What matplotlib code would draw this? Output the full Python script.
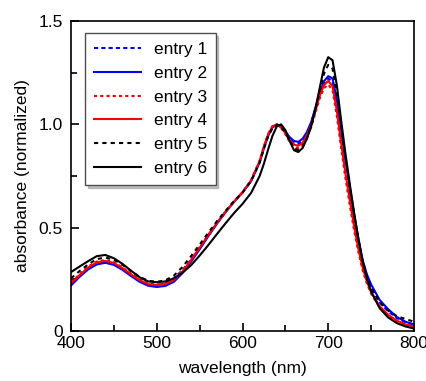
import matplotlib.pyplot as plt

plt.rcParams['font.family'] = ['Liberation Sans', 'DejaVu Sans']

# wavelength grid (nm)
wl = [400, 410, 420, 430, 440, 450, 460, 470, 480, 490, 500, 510, 520, 530,
      540, 550, 560, 570, 580, 590, 600, 610, 620, 625, 630, 635, 640, 645,
      650, 655, 660, 665, 670, 675, 680, 685, 690, 695, 700, 705, 710, 715,
      720, 725, 730, 735, 740, 745, 750, 760, 770, 780, 790, 800]

entry1 = [.225, .268, .303, .328, .335, .326, .302, .272, .244, .226, .222, .230, .255, .295,
          .345, .400, .460, .520, .575, .625, .670, .728, .820, .890, .950, .988, 1.000, .985,
          .960, .930, .910, .905, .920, .955, 1.005, 1.075, 1.145, 1.200, 1.222, 1.205, 1.095, .945,
          .805, .675, .545, .430, .330, .260, .210, .138, .095, .062, .042, .030]
entry2 = [.220, .262, .298, .322, .330, .320, .296, .266, .238, .219, .213, .218, .238, .280,
          .335, .395, .458, .518, .573, .625, .670, .725, .815, .885, .945, .985, .998, .988,
          .965, .938, .920, .915, .930, .962, 1.010, 1.080, 1.150, 1.208, 1.233, 1.222, 1.120, .970,
          .830, .700, .570, .450, .345, .275, .225, .150, .105, .068, .045, .032]
entry3 = [.235, .275, .312, .336, .343, .333, .308, .278, .250, .231, .225, .230, .250, .292,
          .345, .405, .465, .523, .577, .627, .672, .730, .825, .895, .955, .992, 1.000, .982,
          .952, .915, .892, .885, .900, .935, .985, 1.055, 1.125, 1.175, 1.192, 1.165, 1.040, .885,
          .740, .610, .490, .385, .295, .230, .180, .115, .075, .048, .030, .020]
entry4 = [.230, .270, .307, .332, .339, .329, .304, .274, .246, .227, .222, .227, .247, .288,
          .342, .403, .463, .522, .576, .625, .670, .728, .822, .892, .952, .990, 1.000, .985,
          .958, .925, .902, .896, .910, .945, .995, 1.065, 1.138, 1.190, 1.210, 1.185, 1.065, .910,
          .765, .635, .510, .400, .308, .240, .188, .120, .078, .050, .032, .022]
entry5 = [.255, .290, .322, .348, .355, .345, .320, .290, .262, .243, .238, .245, .268, .310,
          .362, .418, .475, .530, .580, .628, .670, .725, .815, .882, .942, .982, .998, .990,
          .960, .920, .885, .875, .890, .930, .990, 1.070, 1.160, 1.245, 1.288, 1.270, 1.150, .990,
          .840, .700, .565, .445, .340, .265, .210, .140, .098, .072, .058, .045]
entry6 = [.285, .312, .338, .362, .368, .352, .325, .292, .260, .240, .236, .240, .255, .282,
          .318, .365, .415, .468, .520, .570, .615, .668, .750, .810, .880, .945, .990, 1.000,
          .972, .920, .875, .866, .885, .930, .990, 1.075, 1.175, 1.275, 1.325, 1.310, 1.190, 1.020,
          .860, .715, .575, .450, .340, .255, .190, .110, .065, .038, .022, .012]

series = [entry1, entry2, entry3, entry4, entry5, entry6]
labels = ['entry 1', 'entry 2', 'entry 3', 'entry 4', 'entry 5', 'entry 6']
colors = ['#0000ff', '#0000ff', '#ff0000', '#ff0000', 'black', 'black']
dashes = [(2, 1.5), None, (1.5, 1.5), None, (2, 2), None]

fig = plt.figure(figsize=(4.26, 3.81), dpi=100)
ax = fig.add_axes([71 / 426, 50 / 381, 343 / 426, 310 / 381])

for y, lab, c, d in zip(series, labels, colors, dashes):
    if d is None:
        ax.plot(wl, y, color=c, lw=1.5, label=lab)
    else:
        ax.plot(wl, y, color=c, lw=1.5, dashes=d, label=lab)

ax.set_xlim(400, 800)
ax.set_ylim(0, 1.5)
ax.set_xticks([400, 500, 600, 700, 800])
ax.set_xticks([450, 550, 650, 750], minor=True)
ax.set_yticks([0, 0.5, 1.0, 1.5])
ax.set_yticklabels(['0', '0.5', '1.0', '1.5'])
ax.set_yticks([0.25, 0.75, 1.25], minor=True)
ax.tick_params(which='both', direction='in', top=False, right=False, labelsize=12.5, width=1.2)
ax.tick_params(which='major', length=6)
ax.tick_params(which='minor', length=4)
ax.tick_params(axis='y', pad=6)
for s in ax.spines.values():
    s.set_linewidth(1.2)

ax.set_xlabel('wavelength (nm)', fontsize=12.5, labelpad=7)
ax.set_ylabel('absorbance (normalized)', fontsize=12.5, labelpad=6)

leg = ax.legend(loc='upper left', bbox_to_anchor=(0.041, 0.961), borderaxespad=0,
                fontsize=12.5, fancybox=False,
                shadow={'color': '0.6', 'alpha': 0.6}, framealpha=1,
                handlelength=2.75, handletextpad=0.7, labelspacing=0.5,
                borderpad=0.5)
leg.get_frame().set_edgecolor('0.3')
leg.get_frame().set_linewidth(1.0)

plt.savefig('out.png', dpi=100)
